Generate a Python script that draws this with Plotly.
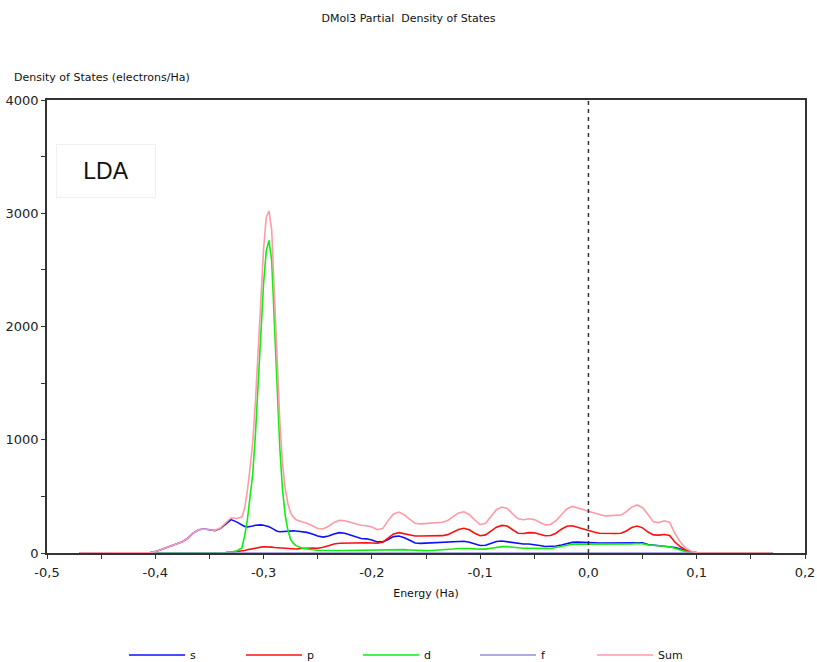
import plotly.graph_objects as go

# ---------------- data ----------------
energy = [-0.470, -0.440, -0.410, -0.405, -0.400, -0.395, -0.390, -0.385, -0.380, -0.375,
          -0.370, -0.365, -0.360, -0.355, -0.350, -0.345, -0.340, -0.335, -0.330, -0.325,
          -0.3200, -0.3175, -0.3150, -0.3125, -0.3100, -0.3075, -0.3050, -0.3025, -0.3000,
          -0.2975, -0.2950, -0.2925, -0.2900, -0.2875, -0.2850, -0.2825, -0.2800, -0.2775,
          -0.2750, -0.2725, -0.2700,
          -0.265, -0.260, -0.255, -0.250, -0.245, -0.240, -0.235, -0.230, -0.225, -0.220,
          -0.215, -0.210, -0.205, -0.200, -0.195, -0.190, -0.185, -0.180, -0.175, -0.170,
          -0.165, -0.160, -0.155, -0.150, -0.145, -0.140, -0.135, -0.130, -0.125, -0.120,
          -0.115, -0.110, -0.105, -0.100, -0.095, -0.090, -0.085, -0.080, -0.075, -0.070,
          -0.065, -0.060, -0.055, -0.050, -0.045, -0.040, -0.035, -0.030, -0.025, -0.020,
          -0.015, -0.010, -0.005, 0.000, 0.005, 0.010, 0.015, 0.020, 0.025, 0.030,
          0.035, 0.040, 0.045, 0.050, 0.055, 0.060, 0.065, 0.070, 0.075, 0.080,
          0.085, 0.090, 0.095, 0.100, 0.105, 0.140, 0.170]

s_dos = [0, 0, 0, 3, 12, 30, 50, 70, 85, 100,
         130, 175, 205, 212, 205, 198, 215, 255, 295, 275,
         248, 235, 230, 232, 238, 245, 248, 248, 245,
         240, 232, 220, 205, 192, 188, 190, 195, 197,
         197, 195, 194,
         190, 182, 168, 150, 140, 150, 168, 180, 175, 158,
         140, 128, 125, 115, 98, 98, 120, 145, 150, 135,
         112, 88, 85, 88, 90, 90, 92, 95, 100, 106,
         104, 95, 80, 66, 68, 85, 102, 106, 100, 90,
         82, 80, 80, 75, 66, 58, 57, 62, 70, 85,
         94, 96, 96, 94, 91, 88, 88, 88, 88, 88,
         90, 94, 94, 90, 75, 70, 66, 58, 52, 48,
         35, 18, 7, 2, 0, 0, 0]

p_dos = [0, 0, 0, 0, 0, 0, 0, 0, 0, 0,
         0, 0, 0, 0, 0, 2, 3, 5, 8, 12,
         18, 22, 28, 34, 40, 44, 48, 52, 55,
         56, 55, 52, 48, 46, 44, 42, 40, 38,
         37, 36, 35,
         40, 44, 44, 42, 50, 65, 80, 86, 88, 90,
         92, 92, 90, 88, 86, 95, 135, 168, 180, 172,
         158, 150, 150, 150, 152, 152, 153, 162, 185, 208,
         218, 205, 175, 152, 160, 195, 228, 244, 238, 205,
         175, 172, 180, 178, 165, 152, 155, 175, 210, 236,
         240, 225, 210, 197, 186, 175, 172, 172, 172, 175,
         195, 225, 238, 222, 185, 160, 158, 163, 155, 95,
         55, 25, 10, 3, 0, 0, 0]

d_dos = [0, 0, 0, 0, 0, 0, 0, 0, 0, 0,
         0, 0, 0, 0, 0, 0, 2, 4, 8, 18,
         45, 150, 290, 480, 700, 1050, 1460, 1950, 2380,
         2670, 2760, 2580, 2050, 1420, 930, 560, 330, 200,
         120, 85, 65,
         45, 35, 28, 24, 22, 21, 21, 22, 22, 23,
         24, 25, 26, 27, 28, 30, 31, 32, 32, 30,
         27, 24, 22, 21, 22, 24, 26, 30, 35, 40,
         42, 40, 36, 32, 34, 42, 52, 56, 56, 50,
         45, 42, 42, 42, 40, 38, 40, 48, 58, 68,
         77, 78, 78, 77, 77, 77, 77, 77, 77, 77,
         78, 80, 85, 82, 72, 66, 63, 60, 55, 40,
         26, 12, 5, 1, 0, 0, 0]

f_dos = [0] * len(energy)

sum_dos = [0, 0, 0, 3, 12, 30, 50, 70, 85, 100,
           130, 175, 205, 212, 205, 200, 220, 264, 311, 305,
           318, 395, 548, 746, 978, 1339, 1756, 2250, 2680,
           2966, 3020, 2852, 2303, 1658, 1162, 792, 565, 435,
           354, 316, 294,
           275, 262, 240, 216, 212, 236, 269, 288, 285, 271,
           256, 245, 241, 230, 205, 215, 286, 345, 362, 337,
           297, 262, 257, 259, 264, 266, 271, 287, 320, 354,
           364, 340, 291, 250, 262, 322, 382, 406, 394, 345,
           302, 294, 302, 295, 271, 248, 252, 285, 338, 389,
           411, 399, 384, 368, 354, 340, 327, 330, 330, 335,
           365, 405, 424, 400, 340, 275, 268, 285, 270, 170,
           95, 42, 15, 4, 0, 0, 0]

series_names = ["s", "p", "d", "f", "Sum"]
series_colors = ["#1010ff", "#ff1010", "#10ee10", "#9090d8", "#ff9aa6"]
series_values = [s_dos, p_dos, d_dos, f_dos, sum_dos]
draw_order = [0, 1, 2, 3, 4]

x_tick_vals = [-0.5, -0.4, -0.3, -0.2, -0.1, 0.0, 0.1, 0.2]
x_tick_text = ["-0,5", "-0,4", "-0,3", "-0,2", "-0,1", "0,0", "0,1", "0,2"]
y_tick_vals = [0, 1000, 2000, 3000, 4000]
y_tick_text = ["0", "1000", "2000", "3000", "4000"]
fermi_level = 0.0

FONT = "DejaVu Sans"
W, H = 817, 662

fig = go.Figure()
for i in draw_order:
    fig.add_trace(go.Scatter(
        x=energy, y=series_values[i], mode="lines", name=series_names[i],
        line=dict(color=series_colors[i], width=1.6),
        legendrank=i + 1, hoverinfo="skip",
    ))

fig.add_shape(type="line", xref="x", yref="paper", x0=fermi_level, x1=fermi_level,
              y0=0, y1=1, line=dict(color="#333333", width=1.5, dash="4px,4px"))

fig.update_layout(
    width=W, height=H,
    margin=dict(l=47, r=12, t=100, b=109, autoexpand=False),
    paper_bgcolor="white", plot_bgcolor="white",
    font=dict(family=FONT, size=11, color="#111111"),
    title=dict(text="DMol3 Partial  Density of States", x=0.5, xanchor="center",
               y=1 - 18 / H, yanchor="middle", font=dict(size=11, family=FONT)),
    showlegend=True,
    legend=dict(orientation="h", xref="container", yref="container",
                x=124 / W, xanchor="left", y=1 - 655 / H, yanchor="middle",
                entrywidth=46, entrywidthmode="pixels", itemwidth=56,
                font=dict(size=11, family=FONT), traceorder="normal"),
    xaxis=dict(range=[-0.5, 0.2], tickvals=x_tick_vals, ticktext=x_tick_text,
               showgrid=False, zeroline=False, showline=True, mirror=True, automargin=False,
               linecolor="#333333", linewidth=1.5, ticks="outside", ticklen=4,
               tickcolor="#333333", tickfont=dict(size=13, family=FONT, color="#222222"),
               ticklabelstandoff=3,
               minor=dict(dtick=0.05, tick0=0, ticks="outside", ticklen=4, tickcolor="#333333"),
               title=dict(text="Energy (Ha)", standoff=10, font=dict(size=11, family=FONT))),
    yaxis=dict(range=[0, 4000], tickvals=y_tick_vals, ticktext=y_tick_text,
               showgrid=False, zeroline=False, showline=True, mirror=True, automargin=False,
               linecolor="#333333", linewidth=1.5, ticks="outside", ticklen=4,
               tickcolor="#333333", tickfont=dict(size=13, family=FONT, color="#222222"),
               minor=dict(dtick=500, tick0=0, ticks="outside", ticklen=4, tickcolor="#333333")),
    annotations=[
        dict(text="Density of States (electrons/Ha)", xref="paper", yref="paper",
             x=-47 / 758, y=(553 - 78) / 453, xanchor="left", yanchor="middle",
             showarrow=False, font=dict(size=11, family=FONT), xshift=12),
        dict(text="LDA", xref="paper", yref="paper", x=(106 - 47) / 758, y=(553 - 171) / 453,
             xanchor="center", yanchor="middle", showarrow=False,
             font=dict(size=23, family="Liberation Sans", color="#111111"),
             bgcolor="white", bordercolor="#f0f0f0", borderwidth=1,
             width=96, height=50, borderpad=1),
    ],
)

# remove the browser's default 8px page margin so the figure fills the window
fig.write_html("out.html", config={"displayModeBar": False},
               post_script="document.body.style.margin='0px';")
